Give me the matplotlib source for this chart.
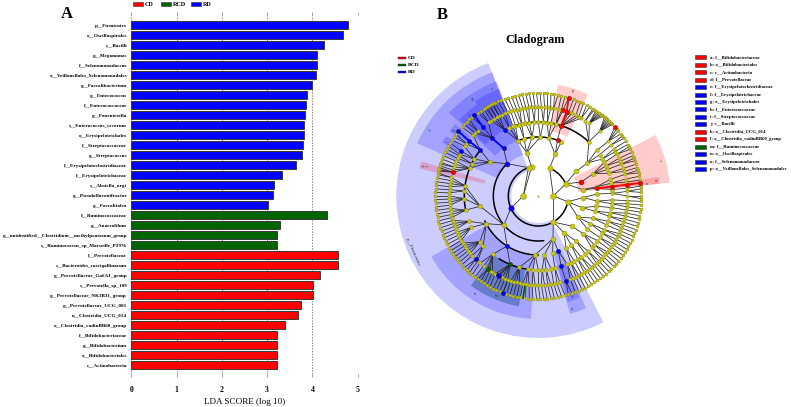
import matplotlib
matplotlib.use("Agg")
import matplotlib.pyplot as plt
from matplotlib.patches import Wedge, Rectangle
from matplotlib.collections import LineCollection
import numpy as np

plt.rcParams['font.family'] = ['Liberation Serif', 'DejaVu Serif']
plt.rcParams['font.weight'] = 'bold'

# --- LDA bars
taxa = ['p__Firmicutes', 'o__Oscillospirales', 'c__Bacilli', 'g__Megamonas', 'f__Selenomonadaceae',
        'o__Veillonellales_Selenomonadales', 'g__Faecalibacterium', 'g__Enterococcus', 'f__Enterococcaceae',
        'g__Fournierella', 's__Enterococcus_cecorum', 'o__Erysipelotrichales', 'f__Streptococcaceae',
        'g__Streptococcus', 'f__Erysipelatoclostridiaceae', 'f__Erysipelotrichaceae', 's__Absiella_argi',
        'g__Pseudoflavonifractor', 'g__Faecalitalea', 'f__Ruminococcaceae', 'g__Anaerofilum',
        'g__unidentified__Clostridium__methylpentosum_group', 's__Ruminococcus_sp_Marseille_P2976',
        'f__Prevotellaceae', 's__Bacteroides_caecigallinarum', 'g__Prevotellaceae_Ga6A1_group',
        's__Prevotella_sp_109', 'g__Prevotellaceae_NK3B31_group', 'g__Prevotellaceae_UCG_001',
        'u__Clostridia_UCG_014', 'o__Clostridia_vadinBB60_group', 'f__Bifidobacteriaceae',
        'g__Bifidobacterium', 'o__Bifidobacteriales', 'c__Actinobacteria']
lda = [4.79, 4.68, 4.26, 4.11, 4.10, 4.09, 4.00, 3.88, 3.87, 3.83, 3.82, 3.81, 3.79, 3.78, 3.63, 3.34, 3.15,
       3.13, 3.02, 4.32, 3.28, 3.21, 3.21, 4.56, 4.56, 4.16, 4.01, 4.01, 3.76, 3.69, 3.40, 3.21, 3.21, 3.21, 3.21]
groups = ['RD'] * 19 + ['RCD'] * 4 + ['CD'] * 12
group_colors = {'CD': '#ff0000', 'RCD': '#006400', 'RD': '#0000ff'}

# --- cladogram rings, angles in degrees, counter clockwise from east
ring_radius = [15, 30, 45, 59, 74, 89, 103]
ring_node_px = [6, 5.5, 5, 4.5, 4, 3.4, 3]
yellow_nodes = [
    [0, 180],
    [24, 68, 103, 109, 300, 349],
    [33, 68, 105, 220, 289, 332, 345, 358, 318, 305, 8],
    [9, 22, 34, 67, 80, 88, 96, 104, 110, 145, 190, 208, 267, 276, 284, 298, 304, 310, 320, 326, 332, 338, 345, 350, 355, 2],
    [2, 5, 10, 13, 18, 21, 24, 27, 30, 34, 38, 47, 76, 80, 83, 86, 90, 93, 97, 100, 103, 105, 108, 110, 113, 150,
     154, 158, 172, 176, 182, 191, 200, 205, 218, 222, 232, 255, 262, 266, 270, 273, 276, 280, 283, 293, 296, 299,
     302, 305, 309, 312, 316, 319, 323, 326, 330, 333, 337, 340, 344, 347, 351, 354, 357],
    [0, 3, 5, 9, 11, 14, 16, 18, 21, 23, 25, 28, 30, 32, 35, 38, 46.5, 55, 58, 61, 63, 65, 68, 70, 75, 77, 80, 82,
     84, 86, 88, 90, 92, 94, 96, 98, 100, 102, 104, 106, 108, 110, 112, 114, 116, 118, 120, 122, 124, 133, 135,
     137, 144, 146, 152, 153, 155, 157, 159, 161, 163, 168, 170, 172, 174, 176, 178, 180, 182, 184, 186, 188, 190,
     192, 194, 196, 198, 200, 202, 204, 206, 208, 210, 212, 214, 216, 218, 220, 222, 227, 229, 232, 237, 239, 241,
     246, 248, 250, 252, 254, 256, 258, 260, 262, 264, 266, 268, 270, 272, 274, 276, 278, 280, 282, 284, 291, 293,
     295, 297, 299, 301, 303, 305, 307, 309, 311, 313, 315, 317, 319, 321, 323, 325, 327, 329, 331, 333, 335, 337,
     339, 341, 343, 345, 347, 349, 351, 353, 355, 357],
    [0, 2, 4, 5.5, 9, 11, 13, 14.5, 16, 18, 20, 21.5, 23, 25, 27, 28.5, 30, 32, 34, 35.5, 37, 39, 40.5, 44, 45,
     46, 47, 48, 49, 50, 51, 52, 53, 54, 55, 56, 57, 58, 60, 62, 64, 66, 68, 70, 75, 77, 79, 81, 83, 85, 87, 89,
     91, 93, 95, 97, 99, 101, 103, 105, 107, 109, 111, 113, 115, 116, 117, 118, 119, 120, 121, 122, 124, 126, 130,
     132, 134, 136, 138, 143, 145, 147, 149, 151, 153, 155, 157, 159, 161, 162, 163, 164, 165, 166, 167, 168, 170,
     172, 174, 176, 178, 180, 182, 184, 186, 188, 190, 192, 194, 196, 198, 200, 202, 204, 206, 208, 210, 212, 214,
     216, 218, 220, 222, 224, 226, 228, 230, 232, 234, 236, 238, 240, 242, 244, 246, 248, 250, 252, 254, 256, 258,
     260, 263, 265, 267, 269, 271, 273, 275, 277, 279, 281, 283, 285, 287, 289, 291, 293, 295, 297, 299, 301, 303,
     305, 307, 309, 311, 313, 315, 317, 319, 321, 323, 325, 327, 329, 331, 333, 335, 337, 339, 341, 343, 345, 347,
     349, 351, 353, 355, 357, 358.5],
]
marked_rings = [1, 2, 3, 3, 4, 4, 4, 5, 5, 5, 6, 6, 5, 5, 5, 6, 3, 4, 5,
                3, 4, 5, 5, 6, 3, 4, 5, 6, 2, 6, 5,
                4, 5]
marked_angles = [204, 134, 126, 238, 128.6, 117, 141.6, 149.7, 141.5, 128.7, 141, 128.4, 225.4, 244, 243, 250, 290, 288, 288,
                 71, 72, 71.4, 74, 72.8, 7.5, 7.3, 7.3, 7.3, 18, 42, 164.5,
                 247.5, 235.3]
marked_groups = ['RD'] * 19 + ['CD'] * 12 + ['RCD'] * 2

arc_rings = [1, 1, 1, 2, 3, 3, 4, 4, 4]
arc_from = [109, 24, 300, 134, 67, 205, 47, 141, 238]
arc_to = [300, 68, 349, 277, 110, 270, 110, 191, 262]

# thick links of the marked clades: ring, angle to ring, angle
clade_groups = ['RD', 'RD', 'RD', 'RD', 'CD', 'CD', 'CD', 'CD', 'CD', 'RCD']
clade_ring_a = [5, 4, 5, 3, 5, 4, 3, 4, 5, 5]
clade_ang_a = [141.5, 141.6, 128.7, 126, 71.4, 72, 7.5, 7.3, 7.3, 261.5]
clade_ring_b = [6, 5, 6, 4, 6, 5, 4, 5, 6, 6]
clade_ang_b = [141, 141.5, 128.4, 128.6, 72.8, 71.4, 7.3, 7.3, 7.3, 261.5]

# sectors: group, from, to, inner radius, outer radius
sector_groups = ['RD', 'RD', 'RD', 'RD', 'RD', 'RD', 'RD', 'RD', 'RD', 'RD', 'RCD', 'CD', 'CD', 'CD', 'RD', 'CD']
sector_from = [110.6, 110.4, 110, 110, 124, 139, 147, 209.5, 233, 285, 233, 5.8, 5.8, 64, 285.5, 163.5]
sector_to = [297.3, 156.5, 137, 124, 136, 144, 151, 266.6, 260, 293, 260, 27.5, 9, 80, 292, 167]
sector_inner = [27, 44, 59, 74, 74, 90, 90, 60, 74, 58, 74, 40, 55, 66, 72, 55]
sector_outer = [142, 132, 122, 114, 110, 110, 110, 123, 112, 122, 112, 132, 122, 113, 110, 122]

sector_labels = ['p__Firmicutes', 'j', 'g', 'e', 'f', 'h', 'i', 'n', 'm', 'p', 'o', 'c', 'b', 'a', 'd', 'k', 'l']
sector_label_r = [137, 127, 117, 117, 106, 106, 106, 117, 108, 118, 106, 127, 118, 108, 110, 118, 114]
sector_label_a = [204, 149, 124, 113, 130, 141.5, 149, 237, 247, 287, 289, 16, 8, 7, 72, 165, 165]

legend_letters = ['a: f__Bifidobacteriaceae', 'b: o__Bifidobacteriales', 'c: c__Actinobacteria', 'd: f__Prevotellaceae',
                  'e: f__Erysipelatoclostridiaceae', 'f: f__Erysipelotrichaceae', 'g: o__Erysipelotrichales',
                  'h: f__Enterococcaceae', 'i: f__Streptococcaceae', 'j: c__Bacilli', 'k: o__Clostridia_UCG_014',
                  'l: o__Clostridia_vadinBB60_group', 'm: f__Ruminococcaceae', 'n: o__Oscillospirales',
                  'o: f__Selenomonadaceae', 'p: o__Veillonellales_Selenomonadales']
legend_groups = ['CD', 'CD', 'CD', 'CD', 'RD', 'RD', 'RD', 'RD', 'RD', 'RD', 'CD', 'CD', 'RCD', 'RD', 'RD', 'RD']

W, H = 791, 407
CX, CY = 538.3, H - 196

fig = plt.figure(figsize=(7.91, 4.07), dpi=100)
bg = fig.add_axes([0, 0, 1, 1])
bg.set_xlim(0, W)
bg.set_ylim(0, H)
bg.axis('off')


def polar(r, a):
    t = np.deg2rad(a)
    return CX + r * np.cos(t), CY + r * np.sin(t)


# bar chart
ax = fig.add_axes([131.3 / W, 1 - 373.5 / H, 226.3 / W, 358.5 / H])
ax.patch.set_alpha(0)
ax.grid(axis='x', ls=(0, (2, 2)), color='#555555', lw=0.5, zorder=0)
ypos = np.arange(len(taxa))
ax.barh(ypos, lda, height=0.85, color=[group_colors[g] for g in groups], edgecolor='#3a3a3a', lw=0.7, zorder=2)
ax.set_yticks(ypos)
ax.set_yticklabels(taxa, fontsize=3.7)
ax.set_ylim(34.85, -1)
ax.set_xlim(0, 5)
ax.set_xticks(range(6))
ax.tick_params(axis='y', length=0, pad=3)
ax.tick_params(axis='x', top=True, bottom=True, length=2.2, width=0.4, color='#555555', labelsize=5.6, pad=7)
for s in ax.spines.values():
    s.set_visible(False)
ax.set_xlabel('LDA SCORE (log 10)', fontsize=6.6, labelpad=3)

for x0, g, tx in zip([132.7, 160.5, 190.5], ['CD', 'RCD', 'RD'], [145, 173, 203]):
    bg.add_patch(Rectangle((x0, H - 6), 10, 4, fc=group_colors[g], ec='#333333', lw=0.4))
    bg.text(tx, H - 4, g, fontsize=4.3, va='center')
bg.text(60.5, H - 14, 'A', fontsize=12, va='center')
bg.text(437, H - 15, 'B', fontsize=12, va='center')

# cladogram shading
for g, a0, a1, r0, r1 in zip(sector_groups, sector_from, sector_to, sector_inner, sector_outer):
    bg.add_patch(Wedge((CX, CY), r1, a0, a1, width=r1 - r0, fc=group_colors[g], alpha=0.2, ec='none', zorder=1))

# links go to the closest node one ring further in
nodes_by_ring = []
for i, angs in enumerate(yellow_nodes):
    extra = [a for rr, a in zip(marked_rings, marked_angles) if rr == i]
    nodes_by_ring.append(np.array(list(angs) + extra, dtype=float))

segs = []
for i in range(1, len(nodes_by_ring)):
    for a in nodes_by_ring[i]:
        d = np.abs((nodes_by_ring[i - 1] - a + 180) % 360 - 180)
        b = nodes_by_ring[i - 1][d.argmin()]
        segs.append([polar(ring_radius[i], a), polar(ring_radius[i - 1], b)])
bg.add_collection(LineCollection(segs, colors='#222222', linewidths=0.55, zorder=2))

for ri, a0, a1 in zip(arc_rings, arc_from, arc_to):
    th = np.arange(a0, a1 + 1, 1.0)
    px, py = polar(ring_radius[ri], th)
    bg.plot(px, py, color='black', lw=1.1, zorder=3, solid_capstyle='round')

# coloured clades
for g, ra, aa, rb, ab in zip(clade_groups, clade_ring_a, clade_ang_a, clade_ring_b, clade_ang_b):
    p0 = polar(ring_radius[ra], aa)
    p1 = polar(ring_radius[rb], ab)
    bg.plot([p0[0], p1[0]], [p0[1], p1[1]], color=group_colors[g], lw=1.3, zorder=3.5)

for i, angs in enumerate(yellow_nodes):
    px, py = polar(ring_radius[i], np.array(angs, dtype=float))
    d = ring_node_px[i] * 0.72
    bg.scatter(px, py, s=d * d, c='#c6c617', edgecolors='#77770f', linewidths=0.25, zorder=4)
for ri, a, g in zip(marked_rings, marked_angles, marked_groups):
    px, py = polar(ring_radius[ri], a)
    d = max(ring_node_px[ri], 4.4) * 0.72
    bg.scatter(px, py, s=d * d, c=group_colors[g], edgecolors='#222222', linewidths=0.25, zorder=5)
bg.scatter(*polar(0, 0), s=0.6, c='#bbbb55', zorder=4)

for t, r, a in zip(sector_labels, sector_label_r, sector_label_a):
    px, py = polar(r, a)
    rot = a - 90 if a < 180 else a + 90
    bg.text(px, py, t, fontsize=3.4 if t != 'p__Firmicutes' else 3.8, ha='center', va='center',
            rotation=rot, rotation_mode='anchor', color='#333333', weight='normal', zorder=6)

bg.text(535, H - 40, 'Cladogram', fontsize=8.8, ha='center', va='center')

for i, g in enumerate(['CD', 'RCD', 'RD']):
    y = H - (58.3 + 7 * i)
    bg.add_patch(Rectangle((398, y - 1), 8, 2, fc=group_colors[g], ec='#222222', lw=0.3))
    bg.text(408, y, g, fontsize=3.9, va='center')

for i, (t, g) in enumerate(zip(legend_letters, legend_groups)):
    y = H - (57.4 + 7.44 * i)
    bg.add_patch(Rectangle((695.3, y - 2), 10.4, 4, fc=group_colors[g], ec='#333333', lw=0.4))
    bg.text(710, y, t, fontsize=3.4, va='center')

fig.savefig('out.png', dpi=100)
